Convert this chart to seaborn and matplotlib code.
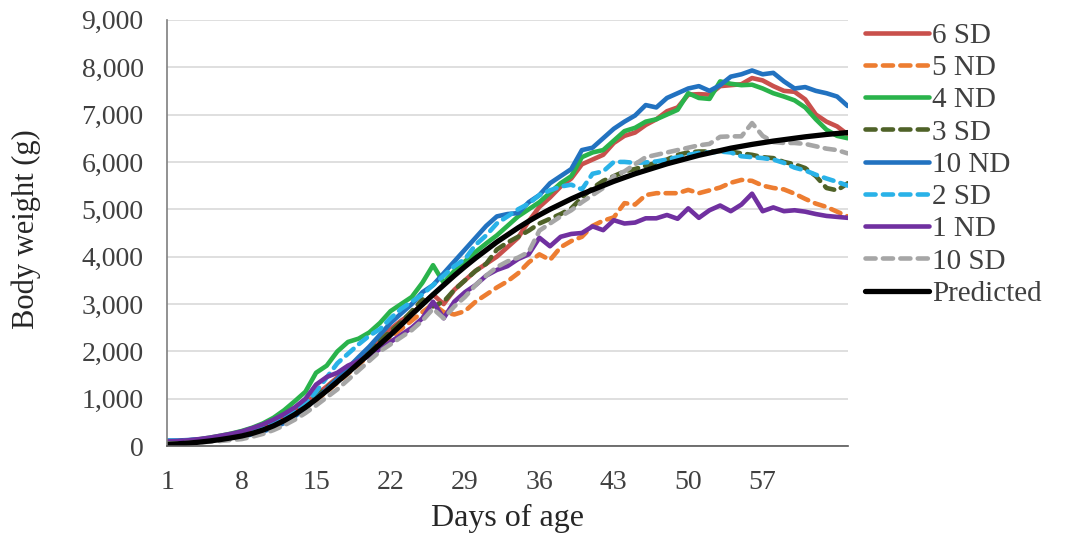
import numpy as np
import pandas as pd
import matplotlib
matplotlib.use("Agg")
import matplotlib.pyplot as plt
from matplotlib.ticker import FuncFormatter
import seaborn as sns

# Days 1..65
days = list(range(1, 66))

sd6 = [80, 90, 110, 130, 160, 200, 240, 290, 350, 430, 520, 630, 760, 910, 1080,
       1260, 1450, 1650, 1850, 2060, 2270, 2470, 2650, 2800, 3000, 3200, 3000, 3300, 3500, 3700,
       3850, 4000, 4200, 4400, 4750, 5050, 5250, 5480, 5650, 5950, 6050, 6150, 6400, 6550, 6620,
       6780, 6900, 7070, 7150, 7420, 7430, 7420, 7600, 7620, 7640, 7770, 7720, 7600, 7500, 7480,
       7320, 7000, 6850, 6750, 6580]
nd5 = [70, 75, 85, 100, 125, 155, 195, 240, 295, 360, 440, 540, 660, 800, 970,
       1150, 1340, 1530, 1720, 1920, 2120, 2300, 2470, 2650, 2830, 3000, 2830, 2780, 2850, 3050,
       3200, 3350, 3480, 3650, 3880, 4050, 3930, 4200, 4330, 4420, 4650, 4760, 4830, 5130, 5100,
       5300, 5340, 5340, 5340, 5410, 5340, 5400, 5460, 5560, 5620, 5600, 5500, 5450, 5420, 5330,
       5220, 5120, 5050, 4950, 4850]
nd4 = [90, 100, 120, 145, 180, 220, 265, 320, 390, 480, 600, 760, 950, 1150, 1550,
       1700, 2000, 2200, 2270, 2400, 2600, 2850, 3000, 3150, 3450, 3820, 3450, 3700, 3900, 4100,
       4280, 4450, 4650, 4850, 5000, 5150, 5350, 5550, 5700, 6100, 6200, 6250, 6450, 6650, 6720,
       6850, 6900, 7000, 7100, 7450, 7350, 7330, 7700, 7650, 7620, 7630, 7550, 7450, 7380, 7300,
       7150, 6900, 6680, 6550, 6500]
sd3 = [70, 80, 95, 115, 145, 180, 220, 270, 330, 400, 490, 600, 730, 880, 1050,
       1230, 1420, 1620, 1820, 2030, 2230, 2420, 2620, 2850, 3100, 2950, 3050, 3300, 3500, 3700,
       3850, 4150, 4300, 4420, 4550, 4700, 4800, 4900, 5020, 5250, 5450, 5600, 5700, 5800, 5850,
       5920, 5980, 6050, 6150, 6200, 6220, 6220, 6230, 6220, 6180, 6150, 6100, 6080, 6000, 5950,
       5870, 5700, 5450, 5400, 5550]
nd10 = [120, 120, 130, 140, 160, 190, 220, 200, 250, 310, 390, 490, 630, 800, 1000,
        1200, 1420, 1650, 1880, 2100, 2350, 2600, 2800, 3000, 3250, 3400, 3650, 3900, 4150, 4400,
        4650, 4850, 4900, 4920, 5150, 5300, 5550, 5700, 5850, 6250, 6300, 6500, 6700, 6850, 6980,
        7200, 7150, 7350, 7450, 7550, 7600, 7500, 7620, 7800, 7850, 7930, 7850, 7880, 7700, 7550,
        7580, 7500, 7450, 7380, 7180]
sd2 = [110, 115, 125, 140, 165, 195, 230, 275, 330, 400, 490, 600, 740, 900, 1150,
       1450, 1750, 1950, 2150, 2330, 2470, 2700, 2900, 3050, 3200, 3400, 3600, 3800, 3950, 4250,
       4450, 4700, 4850, 5000, 5120, 5300, 5400, 5480, 5520, 5420, 5750, 5800, 6000, 6000, 5980,
       5990, 6010, 6050, 6100, 6150, 6190, 6200, 6220, 6200, 6120, 6100, 6080, 6050, 5980, 5880,
       5820, 5730, 5650, 5580, 5500]
nd1 = [100, 110, 125, 150, 180, 220, 260, 310, 380, 460, 560, 680, 820, 1000, 1300,
       1460, 1550, 1700, 1800, 1900, 2050, 2200, 2350, 2500, 2700, 3050, 2700, 3050, 3250, 3400,
       3600, 3720, 3800, 3950, 4050, 4400, 4220, 4420, 4480, 4500, 4640, 4560, 4770, 4700, 4720,
       4810, 4810, 4880, 4800, 5020, 4820, 4980, 5080, 4960, 5100, 5330, 4960, 5040, 4960, 4980,
       4950, 4900, 4860, 4840, 4820]
sd10 = [60, 60, 70, 80, 95, 110, 130, 150, 200, 260, 340, 440, 560, 700, 860,
        1030, 1200, 1400, 1600, 1800, 2000, 2150, 2300, 2450, 2650, 2900, 2700, 2950, 3150, 3400,
        3600, 3780, 3900, 3980, 4100, 4550, 4700, 4850, 4980, 5150, 5300, 5450, 5700, 5800, 5950,
        6100, 6150, 6200, 6250, 6300, 6350, 6380, 6530, 6540, 6540, 6820, 6550, 6420, 6400, 6400,
        6380, 6330, 6280, 6250, 6180]
predicted = [40, 50, 65, 85, 110, 140, 175, 215, 270, 340, 430, 540, 670, 820, 990,
             1170, 1360, 1550, 1750, 1950, 2150, 2350, 2560, 2780, 2990, 3200, 3400, 3600, 3790, 3970,
             4140, 4310, 4460, 4610, 4750, 4880, 5000, 5110, 5220, 5320, 5410, 5500, 5590, 5670, 5750,
             5820, 5890, 5960, 6020, 6080, 6140, 6190, 6240, 6290, 6330, 6370, 6405, 6440, 6470, 6500,
             6530, 6555, 6580, 6600, 6620]

series_names = ["6 SD", "5 ND", "4 ND", "3 SD", "10 ND", "2 SD", "1 ND", "10 SD", "Predicted"]
series_values = [sd6, nd5, nd4, sd3, nd10, sd2, nd1, sd10, predicted]
colors = ["#C9504C", "#ED7D31", "#2AB34B", "#4F6228", "#2272C0", "#29B2E8", "#7030A0", "#A6A6A6", "#000000"]
dashed = [False, True, False, True, False, True, False, True, False]

sns.set_theme(style="white")
plt.rcParams["font.family"] = ["Liberation Serif", "DejaVu Serif"]
text_color = "#404040"

fig = plt.figure(figsize=(10.65, 5.35), dpi=100)
ax = fig.add_axes([0.157, 0.166, 0.639, 0.797])

for name, vals, col, dsh in zip(series_names, series_values, colors, dashed):
    df = pd.DataFrame({"day": days, "weight": vals})
    sns.lineplot(data=df, x="day", y="weight", ax=ax, color=col, label=name,
                 linewidth=3.8 if name == "Predicted" else 3.3)
    line = ax.lines[-1]
    line.set_solid_capstyle("round")
    if dsh:
        line.set_dashes((2.2, 1.6))
        line.set_dash_capstyle("round")

ax.set_xlim(1, 65)
ax.set_ylim(0, 9000)
ax.set_xticks([1, 8, 15, 22, 29, 36, 43, 50, 57])
ax.set_yticks(range(0, 9001, 1000))
ax.yaxis.set_major_formatter(FuncFormatter(lambda v, p: f"{int(v):,}"))
ax.grid(axis="y", color="#D9D9D9", linewidth=1.2)
ax.grid(axis="x", visible=False)
ax.set_axisbelow(True)
for side in ["top", "right"]:
    ax.spines[side].set_visible(False)
ax.spines["left"].set_color("#7F7F7F")
ax.spines["bottom"].set_color("#595959")
ax.spines["left"].set_linewidth(1.2)
ax.spines["bottom"].set_linewidth(1.2)
ax.tick_params(axis="both", length=0, labelsize=20, colors=text_color)
ax.tick_params(axis="y", pad=17)
ax.tick_params(axis="x", pad=17)

ax.set_xlabel("Days of age", fontsize=23, color="#262626")
ax.set_ylabel("Body weight (g)", fontsize=22, color="#262626")
ax.xaxis.set_label_coords(0.5, -0.136)
ax.yaxis.set_label_coords(-0.185, 0.51)

ax.legend(loc="upper left", bbox_to_anchor=(0.812, 0.958), bbox_transform=fig.transFigure,
          frameon=False, fontsize=21, labelcolor=text_color, handlelength=2.2,
          handletextpad=0.12, labelspacing=0.2, borderaxespad=0, borderpad=0)

fig.savefig("out.png", dpi=100)
